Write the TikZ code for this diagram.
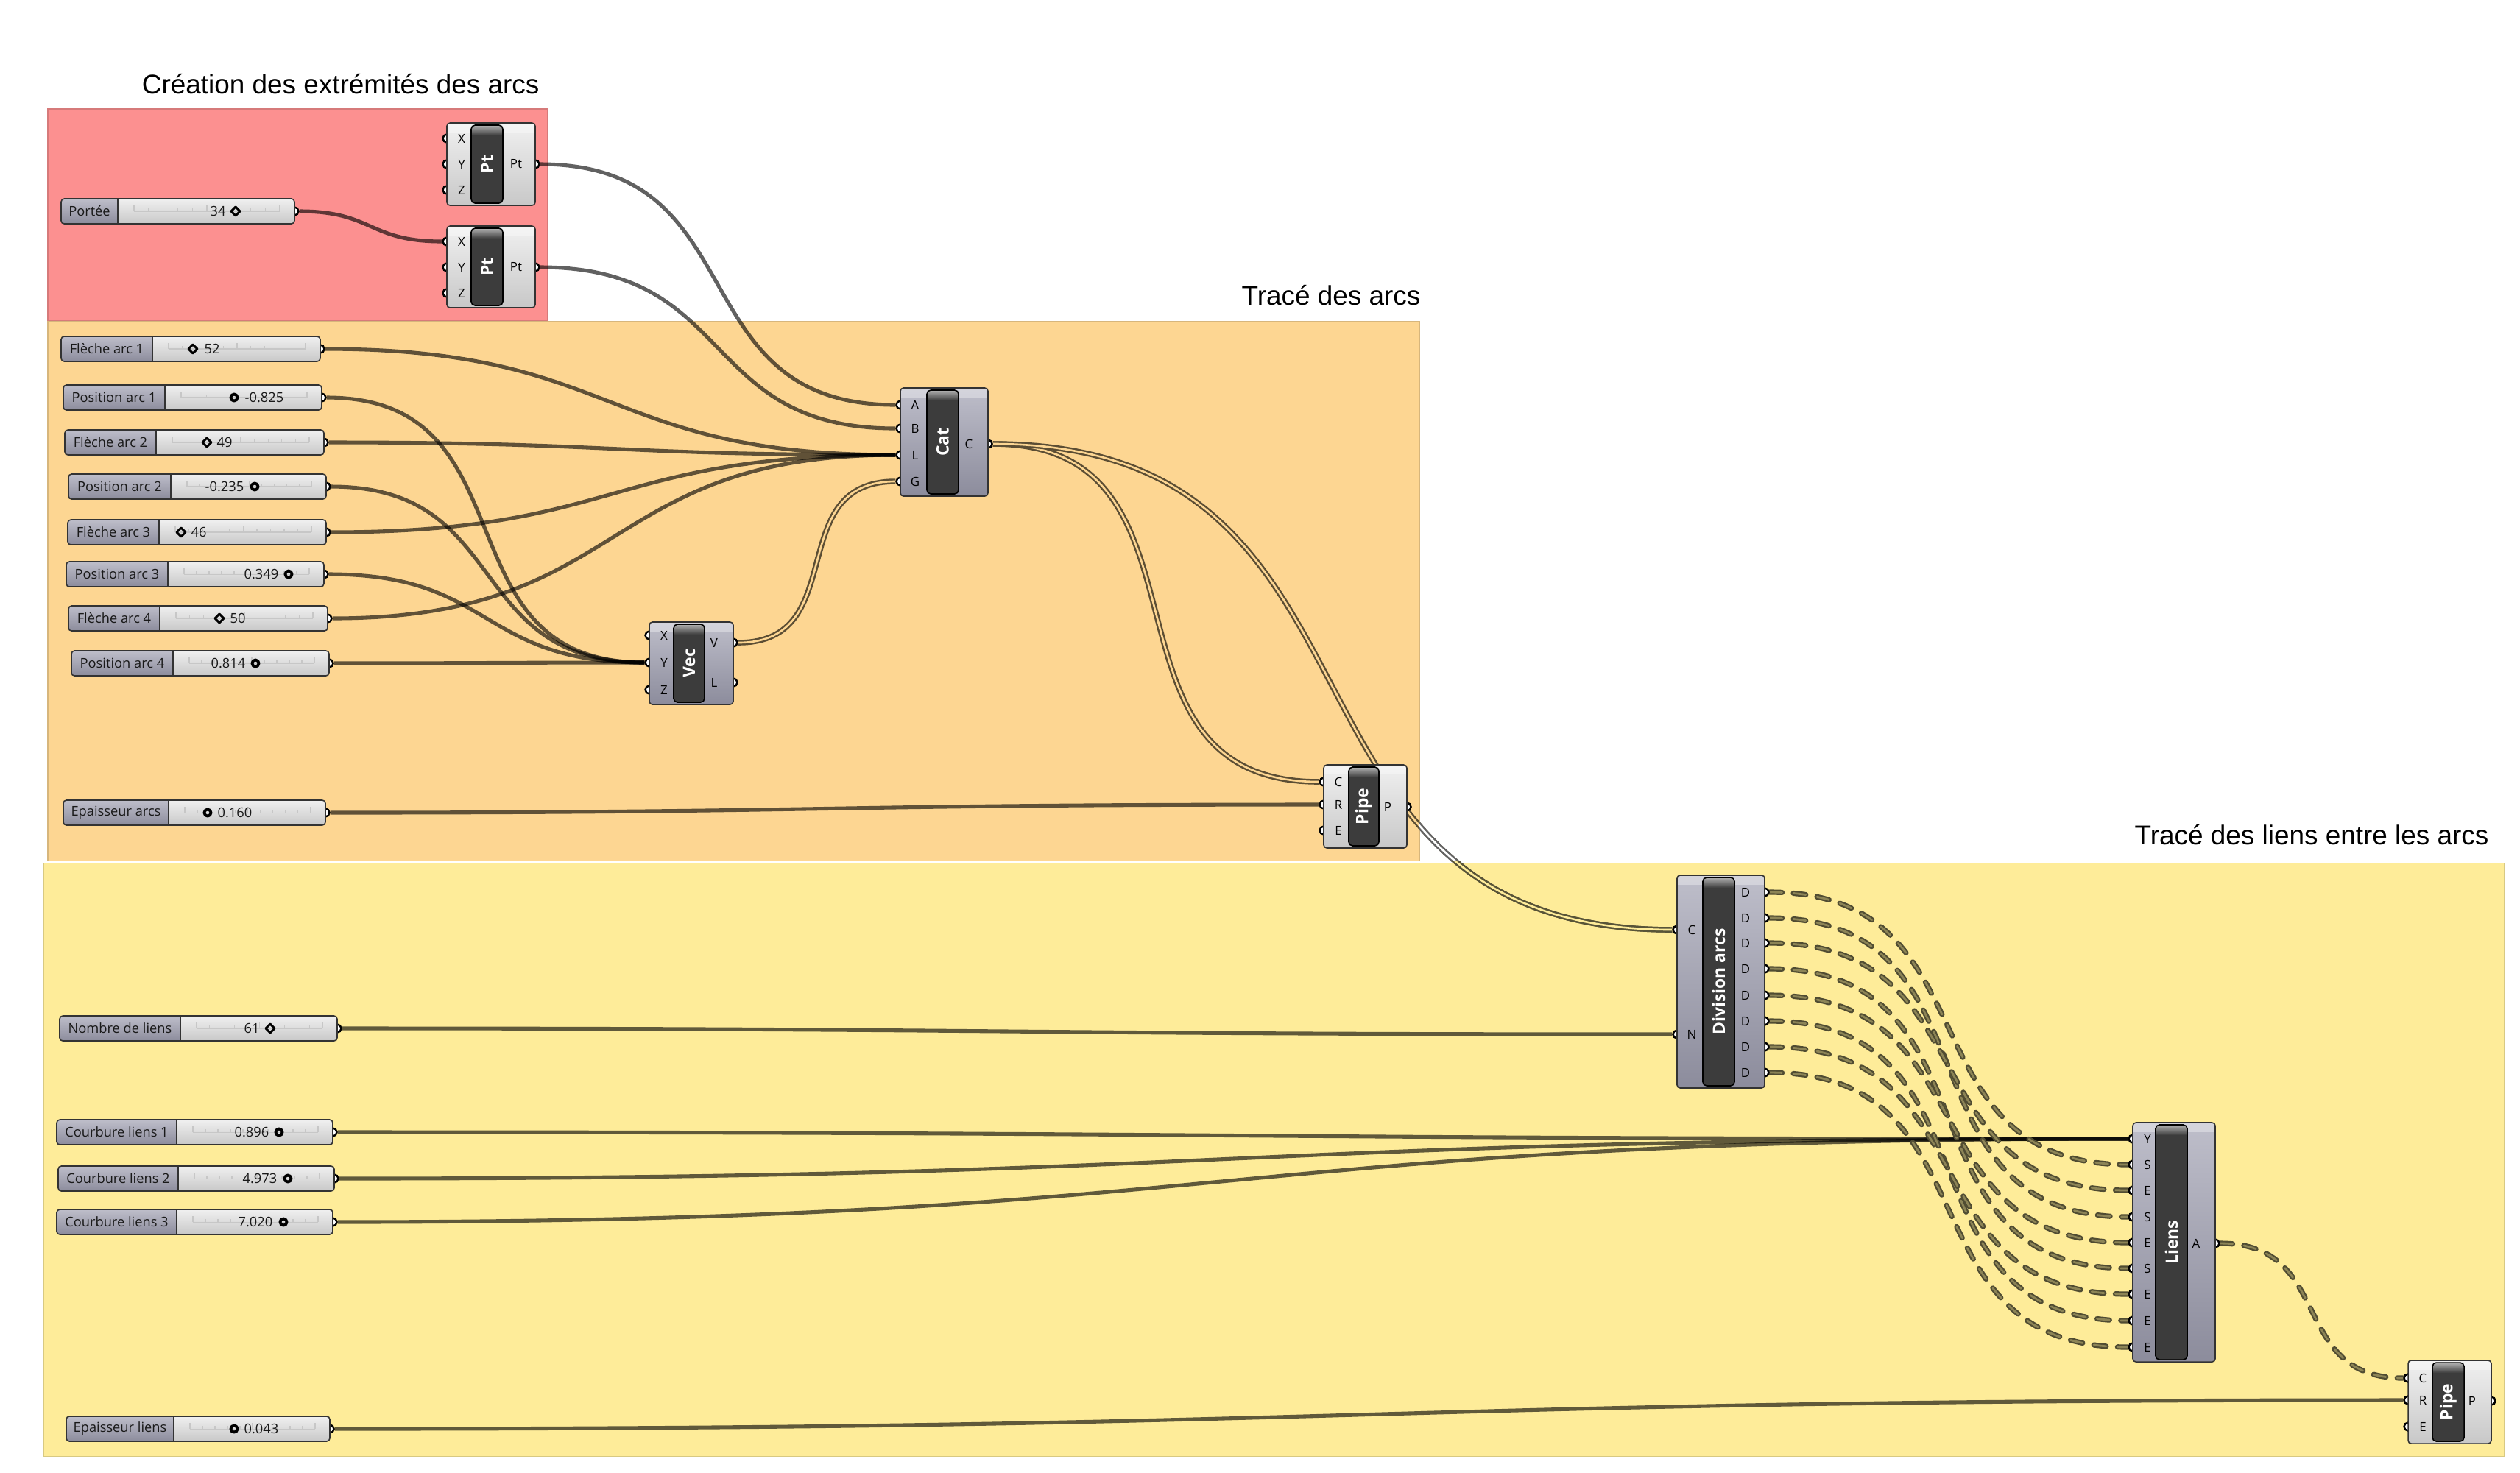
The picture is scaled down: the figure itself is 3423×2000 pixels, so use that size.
\documentclass[tikz,border=0pt]{standalone}
\usepackage{fontspec}
\setmainfont{Liberation Sans}
\newfontfamily\ghfont{Open Sans}
\usetikzlibrary{positioning}

\definecolor{grouppink}{RGB}{252,144,144}
\definecolor{grouporange}{RGB}{253,214,146}
\definecolor{groupyellow}{RGB}{254,236,153}
\definecolor{bluetop}{RGB}{190,190,202}
\definecolor{bluebottom}{RGB}{140,140,156}
\definecolor{greytop}{RGB}{240,240,240}
\definecolor{greybottom}{RGB}{200,200,200}
\definecolor{capsule}{RGB}{60,60,60}
\definecolor{treeout}{RGB}{80,76,50}
\definecolor{treein}{RGB}{140,132,86}
\definecolor{listbrown}{RGB}{92,78,52}
\definecolor{listolive}{RGB}{88,84,56}
\definecolor{listgrey}{RGB}{100,100,100}

\pgfdeclarelayer{groups}
\pgfdeclarelayer{wires}
\pgfdeclarelayer{ports}
\pgfsetlayers{groups,wires,ports,main}

% slider: name, left, split, right, y, label, value, value x
\newcommand{\ghslider}[8]{%
  \begin{pgfonlayer}{ports}
    \node[ghport] (#1) at (#4,#5) {};
  \end{pgfonlayer}
  \begin{scope}
    \clip[rounded corners=1.2pt] (#2,#5-17) rectangle (#4,#5+17);
    \shade[top color=greytop, bottom color=greybottom] (#2,#5-17) rectangle (#4,#5+17);
    \shade[top color=bluetop, bottom color=bluebottom] (#2,#5-17) rectangle (#3,#5+17);
  \end{scope}
  \draw[outline, rounded corners=1.2pt] (#2,#5-17) rectangle (#4,#5+17);
  \draw[outline] (#3,#5-17) -- (#3,#5+17);
  \draw[ticks] (#3+22,#5) -- (#4-20,#5);
  \foreach \k in {0,...,10}{%
    \pgfmathsetmacro{\tickx}{#3+22+\k*(#4-#3-42)/10}
    \pgfmathsetmacro{\tickh}{(\k==0 || \k==5 || \k==10) ? 8 : 4}
    \draw[ticks] (\tickx,#5) -- (\tickx,#5-\tickh);
  }
  \node[ghlabel] at ({(#2+#3)/2},#5) {#6};
  \node[ghlabel] at (#8,#5) {#7};
}
\newcommand{\diamondknob}[2]{\draw[knob] (#1,#2-6) -- (#1+6,#2) -- (#1,#2+6) -- (#1-6,#2) -- cycle;}
\newcommand{\roundknob}[2]{\draw[knob, line width=1.1pt] (#1,#2) circle[radius=1.3pt];}

% component: body style, left, top, right, bottom, capsule left, capsule right, title
\newcommand{\ghcomp}[8]{%
  \path[#1, rounded corners=1.2pt] (#2,#3) rectangle (#4,#5);
  \begin{scope}
    \clip[rounded corners=1.2pt] (#2,#3) rectangle (#4,#5);
    \fill[white, fill opacity=0.35] (#2,#3) rectangle (#4,#3+13);
  \end{scope}
  \draw[outline, rounded corners=1.2pt] (#2,#3) rectangle (#4,#5);
  \begin{scope}
    \clip[rounded corners=1.5pt] (#6,#3+3) rectangle (#7,#5-3);
    \fill[capsule] (#6,#3+3) rectangle (#7,#5-3);
    \shade[top color=black!30, bottom color=capsule] (#6,#3+3) rectangle (#7,#3+17);
  \end{scope}
  \draw[outline, draw=black, rounded corners=1.5pt] (#6,#3+3) rectangle (#7,#5-3);
  \node[captext, rotate=90] at ({(#6+#7)/2},{(#3+#5)/2}) {#8};
}
% ports: name, x, y, label
\newcommand{\ghin}[4]{%
  \begin{pgfonlayer}{ports}\node[ghport] (#1) at (#2,#3) {};\end{pgfonlayer}
  \node[plabel] at (#2+20,#3) {#4};
}
\newcommand{\ghout}[4]{%
  \begin{pgfonlayer}{ports}\node[ghport] (#1) at (#2,#3) {};\end{pgfonlayer}
  \node[plabel] at (#2-26,#3) {#4};
}

\begin{document}
\begin{tikzpicture}[x=0.1mm, y=-0.1mm]

  \tikzstyle{ghport}=[circle, draw=black, fill=white, line width=0.7pt, minimum size=1.1mm, inner sep=0pt]
  \tikzstyle{outline}=[draw=black!80, line width=0.45pt]
  \tikzstyle{ticks}=[draw=black!22, line width=0.3pt]
  \tikzstyle{knob}=[draw=black, line width=0.85pt, line join=round]
  \tikzstyle{ghlabel}=[font=\ghfont\fontsize{5.2}{6}\selectfont, text=black!90, inner sep=0pt]
  \tikzstyle{plabel}=[font=\ghfont\fontsize{4.8}{6}\selectfont, inner sep=0pt]
  \tikzstyle{captext}=[font=\ghfont\bfseries\fontsize{6.5}{7}\selectfont, text=white, inner sep=0pt]
  \tikzstyle{bluebody}=[top color=bluetop, bottom color=bluebottom]
  \tikzstyle{greybody}=[top color=greytop, bottom color=greybottom]
  \tikzstyle{grouptitle}=[font=\fontsize{10.5}{12}\selectfont, inner sep=0pt, anchor=base east]
  \tikzstyle{wire}=[draw=black, draw opacity=0.62, line width=1.45pt]
  \tikzstyle{listwire}=[draw=listbrown, line width=0.7pt, double=grouporange, double distance=0.75pt]
  \tikzstyle{treewire}=[draw=treeout, line width=0.62pt, double=treein, double distance=0.8pt, dash pattern=on 4.8pt off 4.4pt, line cap=round]
  \tikzstyle{ghbend}=[out=0, in=180, looseness=1.3]

  \useasboundingbox (0,0) rectangle (3423,2000);

  % groups
  \begin{pgfonlayer}{groups}
    \fill[white] (0,0) rectangle (3423,2000);
    \draw[draw=grouppink!85!black, fill=grouppink, line width=0.3pt] (65,148) rectangle (744,436);
    \draw[draw=grouporange!85!black, fill=grouporange, line width=0.3pt] (65,437) rectangle (1928,1169);
    \draw[draw=groupyellow!85!black, fill=groupyellow, line width=0.3pt] (59,1172) rectangle (3401,1978);
  \end{pgfonlayer}
  \node[grouptitle] (title-pts) at (733,127) {Création des extrémités des arcs};
  \node[grouptitle] (title-arcs) at (1930,414) {Tracé des arcs};
  \node[grouptitle] (title-liens) at (3381,1147) {Tracé des liens entre les arcs};

  % sliders
  \ghslider{portee}{83}{160}{400}{287}{Portée}{34}{296}
  \diamondknob{320}{287}
  \ghslider{fleche1}{83}{207}{435}{474}{Flèche arc 1}{52}{288}
  \diamondknob{262}{474}
  \ghslider{pos1}{86}{224}{437}{540}{Position arc 1}{-0.825}{359}
  \roundknob{318}{540}
  \ghslider{fleche2}{88}{212}{440}{601}{Flèche arc 2}{49}{305}
  \diamondknob{281}{601}
  \ghslider{pos2}{93}{232}{443}{661}{Position arc 2}{-0.235}{305}
  \roundknob{346}{661}
  \ghslider{fleche3}{92}{216}{443}{723}{Flèche arc 3}{46}{270}
  \diamondknob{246}{723}
  \ghslider{pos3}{90}{228}{440}{780}{Position arc 3}{0.349}{355}
  \roundknob{392}{780}
  \ghslider{fleche4}{93}{217}{445}{840}{Flèche arc 4}{50}{323}
  \diamondknob{298}{840}
  \ghslider{pos4}{97}{235}{447}{901}{Position arc 4}{0.814}{310}
  \roundknob{347}{901}
  \ghslider{eparcs}{86}{229}{442}{1104}{Epaisseur arcs}{0.160}{319}
  \roundknob{282}{1104}
  \ghslider{nbliens}{81}{245}{458}{1397}{Nombre de liens}{61}{342}
  \diamondknob{367}{1397}
  \ghslider{courb1}{77}{240}{452}{1538}{Courbure liens 1}{0.896}{342}
  \roundknob{379}{1538}
  \ghslider{courb2}{79}{242}{454}{1601}{Courbure liens 2}{4.973}{353}
  \roundknob{391}{1601}
  \ghslider{courb3}{77}{240}{452}{1660}{Courbure liens 3}{7.020}{347}
  \roundknob{385}{1660}
  \ghslider{epliens}{90}{236}{448}{1941}{Epaisseur liens}{0.043}{355}
  \roundknob{318}{1941}

  % points
  \ghcomp{greybody}{607}{167}{727}{279}{640}{683}{Pt}
  \ghin{ptA-x}{607}{188}{X}
  \ghin{ptA-y}{607}{223}{Y}
  \ghin{ptA-z}{607}{258}{Z}
  \ghout{ptA-pt}{727}{223}{Pt}
  \ghcomp{greybody}{607}{307}{727}{418}{640}{683}{Pt}
  \ghin{ptB-x}{607}{328}{X}
  \ghin{ptB-y}{607}{363}{Y}
  \ghin{ptB-z}{607}{398}{Z}
  \ghout{ptB-pt}{727}{363}{Pt}

  % arcs
  \ghcomp{bluebody}{1223}{527}{1342}{674}{1259}{1302}{Cat}
  \ghin{cat-a}{1223}{550}{A}
  \ghin{cat-b}{1223}{582}{B}
  \ghin{cat-l}{1223}{618}{L}
  \ghin{cat-g}{1223}{654}{G}
  \ghout{cat-c}{1342}{603}{C}
  \ghcomp{bluebody}{882}{845}{996}{957}{915}{957}{Vec}
  \ghin{vec-x}{882}{863}{X}
  \ghin{vec-y}{882}{900}{Y}
  \ghin{vec-z}{882}{937}{Z}
  \ghout{vec-v}{996}{873}{V}
  \ghout{vec-l}{996}{927}{L}
  \ghcomp{greybody}{1798}{1039}{1911}{1152}{1832}{1873}{Pipe}
  \ghin{pipeA-c}{1798}{1062}{C}
  \ghin{pipeA-r}{1798}{1093}{R}
  \ghin{pipeA-e}{1798}{1128}{E}
  \ghout{pipeA-p}{1911}{1096}{P}

  % liens
  \ghcomp{bluebody}{2278}{1189}{2397}{1478}{2313}{2356}{Division arcs}
  \ghin{div-c}{2278}{1263}{C}
  \ghin{div-n}{2278}{1405}{N}
  \foreach \yy [count=\i] in {1212,1247,1281,1316,1352,1387,1422,1457}
    {\ghout{div-d\i}{2397}{\yy}{D}}
  \ghcomp{bluebody}{2897}{1525}{3009}{1850}{2928}{2971}{Liens}
  \ghin{liens-y}{2897}{1547}{Y}
  \foreach \lab/\yy [count=\i] in {S/1582,E/1617,S/1653,E/1688,S/1723,E/1758,E/1794,E/1830}
    {\ghin{liens-\i}{2897}{\yy}{\lab}}
  \ghout{liens-a}{3009}{1689}{A}
  \ghcomp{greybody}{3271}{1848}{3384}{1961}{3304}{3347}{Pipe}
  \ghin{pipeB-c}{3271}{1872}{C}
  \ghin{pipeB-r}{3271}{1902}{R}
  \ghin{pipeB-e}{3271}{1938}{E}
  \ghout{pipeB-p}{3384}{1903}{P}

  % wires
  \begin{pgfonlayer}{wires}
    \draw[wire] (portee) to[ghbend] (ptB-x);
    \draw[wire] (ptA-pt) to[ghbend] (cat-a);
    \draw[wire] (ptB-pt) to[ghbend] (cat-b);
    \foreach \s in {fleche1,fleche2,fleche3,fleche4}
      \draw[wire] (\s) to[ghbend] (cat-l);
    \foreach \s in {pos1,pos2,pos3,pos4}
      \draw[wire] (\s) to[ghbend] (vec-y);
    \draw[wire] (eparcs) to[ghbend] (pipeA-r);
    \draw[wire] (nbliens) to[ghbend] (div-n);
    \foreach \s in {courb1,courb2,courb3}
      \draw[wire] (\s) to[ghbend] (liens-y);
    \draw[wire] (epliens) to[ghbend] (pipeB-r);
    \draw[listwire] (vec-v) to[ghbend] (cat-g);
    \draw[listwire] (cat-c) to[ghbend] (pipeA-c);
    \draw[listwire] (cat-c) to[ghbend] (div-c);
    \begin{scope}
      \clip (1928,0) rectangle (3423,1170);
      \draw[listwire, draw=listgrey, double=white] (cat-c) to[ghbend] (div-c);
    \end{scope}
    \begin{scope}
      \clip (59,1170) rectangle (3401,1978);
      \draw[listwire, draw=listolive, double=groupyellow] (cat-c) to[ghbend] (div-c);
    \end{scope}
    \foreach \d/\l in {1/1,2/3,3/2,4/5,5/4,6/7,7/6,8/8}
      \draw[treewire] (div-d\d) to[ghbend] (liens-\l);
    \draw[treewire] (liens-a) to[ghbend] (pipeB-c);
  \end{pgfonlayer}

\end{tikzpicture}
\end{document}
